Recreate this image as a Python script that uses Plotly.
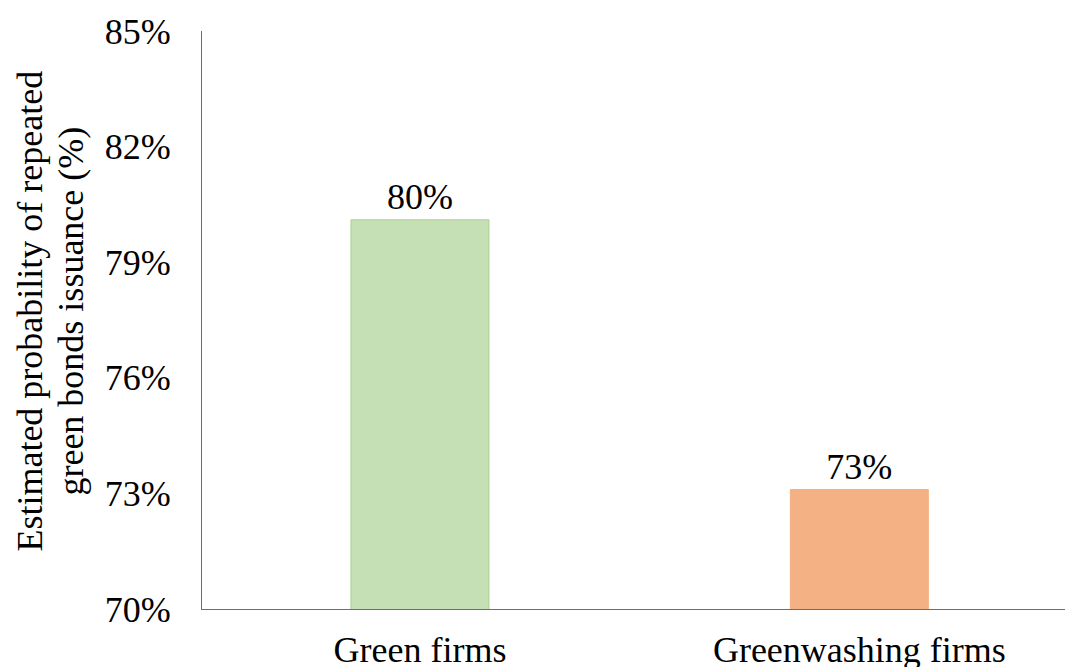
import plotly.graph_objects as go

# Estimated probability of issuing green bonds again, by firm type
categories = ["Green firms", "Greenwashing firms"]
probabilities = [0.801, 0.731]
bar_colors = ["#C5E0B4", "#F4B183"]
edge_colors = ["#A9D18E", "#F4B183"]

y_ticks = [0.70, 0.73, 0.76, 0.79, 0.82, 0.85]
y_title_lines = ["Estimated probability of repeated", "green bonds issuance (%)"]

FONT = "Liberation Serif"
SIZE = 36

fig = go.Figure(
    go.Bar(
        x=categories,
        y=probabilities,
        width=0.314,
        marker=dict(color=bar_colors, line=dict(color=edge_colors, width=1)),
        texttemplate="%{y:.0%}",
        textposition="outside",
        textfont=dict(family=FONT, size=SIZE, color="#000000"),
        cliponaxis=False,
    )
)

# Two-line vertical axis title, set closer together than the default line height
for i, line in enumerate(y_title_lines):
    fig.add_annotation(
        text=line,
        xref="paper",
        yref="paper",
        x=-0.199 + i * 0.0475,
        y=0.515,
        xanchor="center",
        yanchor="middle",
        textangle=-90,
        showarrow=False,
        font=dict(family=FONT, size=SIZE, color="#000000"),
    )

fig.update_layout(
    width=1065,
    height=667,
    margin=dict(l=202, r=0, t=31, b=58),
    paper_bgcolor="white",
    plot_bgcolor="white",
    showlegend=False,
    font=dict(family=FONT, size=SIZE, color="#000000"),
    xaxis=dict(
        type="category",
        range=[-0.496, 1.468],
        automargin=False,
        showline=True,
        linecolor="#6e6e6e",
        linewidth=1,
        ticks="",
        showgrid=False,
        ticklabelstandoff=9,
        tickfont=dict(family=FONT, size=SIZE),
    ),
    yaxis=dict(
        range=[0.70, 0.85],
        tickvals=y_ticks,
        tickformat=".0%",
        automargin=False,
        showline=True,
        linecolor="#6e6e6e",
        linewidth=1,
        ticks="",
        showgrid=False,
        zeroline=False,
        ticklabelstandoff=23,
        tickfont=dict(family=FONT, size=SIZE),
    ),
)

fig.write_html("out.html")
